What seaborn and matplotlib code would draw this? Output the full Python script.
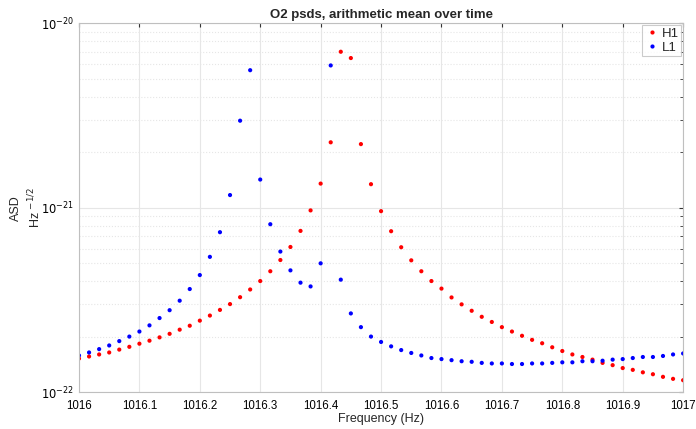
import numpy as np
import pandas as pd
import matplotlib
matplotlib.use('Agg')
import matplotlib.pyplot as plt
import matplotlib.ticker as mticker
import seaborn as sns

# ==================== 数据 ====================
freq = 1016 + np.arange(61) / 60.0

h1_asd = [1.52e-22, 1.56e-22, 1.60e-22, 1.64e-22, 1.70e-22, 1.76e-22, 1.83e-22, 1.90e-22,
          1.98e-22, 2.07e-22, 2.18e-22, 2.29e-22, 2.44e-22, 2.60e-22, 2.79e-22, 3.00e-22,
          3.27e-22, 3.60e-22, 4.00e-22, 4.52e-22, 5.20e-22, 6.12e-22, 7.48e-22, 9.66e-22,
          1.35e-21, 2.26e-21, 7.00e-21, 6.47e-21, 2.21e-21, 1.34e-21, 9.57e-22, 7.45e-22,
          6.10e-22, 5.18e-22, 4.52e-22, 4.00e-22, 3.64e-22, 3.26e-22, 2.99e-22, 2.76e-22,
          2.56e-22, 2.40e-22, 2.25e-22, 2.13e-22, 2.02e-22, 1.92e-22, 1.84e-22, 1.75e-22,
          1.67e-22, 1.60e-22, 1.55e-22, 1.50e-22, 1.44e-22, 1.40e-22, 1.35e-22, 1.32e-22,
          1.28e-22, 1.25e-22, 1.21e-22, 1.18e-22, 1.16e-22]

l1_asd = [1.58e-22, 1.64e-22, 1.71e-22, 1.79e-22, 1.89e-22, 2.00e-22, 2.13e-22, 2.30e-22,
          2.52e-22, 2.78e-22, 3.13e-22, 3.62e-22, 4.31e-22, 5.41e-22, 7.36e-22, 1.17e-21,
          2.96e-21, 5.56e-21, 1.42e-21, 8.13e-22, 5.78e-22, 4.57e-22, 3.92e-22, 3.74e-22,
          4.99e-22, 5.90e-21, 4.07e-22, 2.67e-22, 2.25e-22, 2.00e-22, 1.87e-22, 1.77e-22,
          1.69e-22, 1.63e-22, 1.58e-22, 1.53e-22, 1.51e-22, 1.49e-22, 1.47e-22, 1.46e-22,
          1.44e-22, 1.43e-22, 1.43e-22, 1.42e-22, 1.42e-22, 1.43e-22, 1.43e-22, 1.44e-22,
          1.45e-22, 1.45e-22, 1.47e-22, 1.47e-22, 1.48e-22, 1.50e-22, 1.51e-22, 1.53e-22,
          1.55e-22, 1.55e-22, 1.57e-22, 1.60e-22, 1.62e-22]

x_ticks = [1016 + k / 10 for k in range(11)]
x_tick_labels = ['1016', '1016.1', '1016.2', '1016.3', '1016.4', '1016.5',
                 '1016.6', '1016.7', '1016.8', '1016.9', '1017']
y_ticks = [1e-22, 1e-21, 1e-20]
y_tick_labels = ['$10^{-22}$', '$10^{-21}$', '$10^{-20}$']

df = pd.DataFrame({
    'freq': np.concatenate([freq, freq]),
    'asd': h1_asd + l1_asd,
    'ifo': ['H1'] * len(freq) + ['L1'] * len(freq),
})

# ==================== 绘图 ====================
sns.set_style('white')
plt.rcParams['font.family'] = ['Liberation Sans', 'DejaVu Sans']

fig = plt.figure(figsize=(6.96, 4.29), dpi=100)
ax = fig.add_axes([0.1135, 0.086, 0.868, 0.86])

sns.scatterplot(data=df, x='freq', y='asd', hue='ifo',
                palette={'H1': 'red', 'L1': 'blue'},
                s=9, linewidth=0, ax=ax)

ax.set_yscale('log')
ax.set_xlim(1016, 1017)
ax.set_ylim(1e-22, 1e-20)
ax.set_xticks(x_ticks)
ax.set_xticklabels(x_tick_labels)
ax.set_yticks(y_ticks)
ax.set_yticklabels(y_tick_labels)
ax.yaxis.set_minor_locator(mticker.LogLocator(base=10, subs=np.arange(2, 10)))
ax.yaxis.set_minor_formatter(mticker.NullFormatter())

ax.grid(True, which='major', color='#e6e6e6', linewidth=0.8)
ax.grid(True, which='minor', axis='y', color='#e6e6e6', linestyle=':', linewidth=0.8)
ax.set_axisbelow(True)

ax.tick_params(axis='both', which='both', direction='in', top=True, right=True,
               labelsize=8.3, colors='#333333', length=3)
ax.tick_params(axis='both', which='minor', length=2)
ax.tick_params(axis='both', which='both', labelcolor='black')
ax.tick_params(axis='x', which='major', pad=5.5)
for sp in ax.spines.values():
    sp.set_color('#bfbfbf')
    sp.set_linewidth(0.8)

ax.set_title('O2 psds, arithmetic mean over time', fontsize=9.5, fontweight='bold', pad=4)
ax.set_xlabel('Frequency (Hz)', fontsize=9, labelpad=1)
ax.set_ylabel('ASD\nHz $^{-1/2}$', fontsize=9, labelpad=-2, linespacing=1.4)

leg = ax.legend(loc='upper right', fontsize=9.5, frameon=True, fancybox=False,
                handletextpad=0.1, borderpad=0.2, labelspacing=0.1,
                handlelength=1.2, borderaxespad=0.15, title=None)
leg.get_frame().set_edgecolor('#bfbfbf')
leg.get_frame().set_linewidth(0.8)

fig.savefig('out.png', dpi=100)
